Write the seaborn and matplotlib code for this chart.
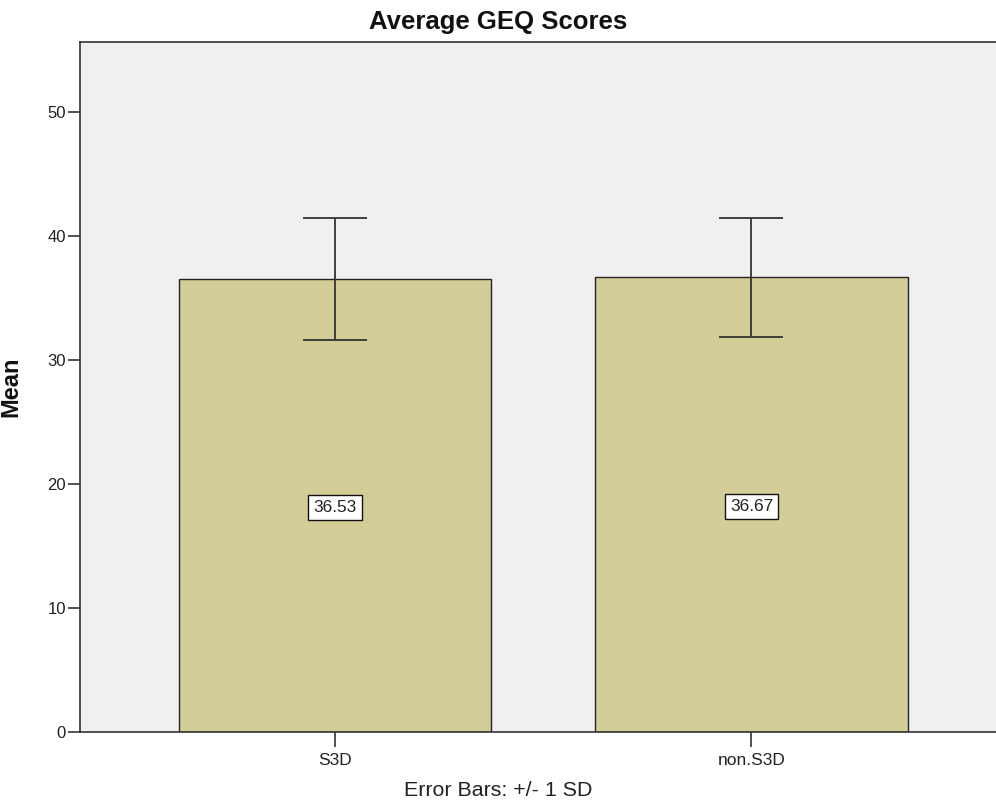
import pandas as pd
import matplotlib
matplotlib.use('Agg')
import matplotlib.pyplot as plt
import seaborn as sns

# values
groups = ['S3D', 'non.S3D']
means = [36.53, 36.67]
sds = [4.90, 4.80]
value_labels = ['36.53', '36.67']

df = pd.DataFrame({'group': groups, 'mean': means})

sns.set_style('white')
plt.rcParams['font.family'] = ['Liberation Sans', 'DejaVu Sans']

fig = plt.figure(figsize=(9.96, 8.05), dpi=100)
ax = fig.add_axes([80 / 996, 1 - 731.7 / 805, 1 - 80 / 996 + 0.002, (731.7 - 42) / 805])
ax.set_facecolor('#F0F0F0')

sns.barplot(data=df, x='group', y='mean', color='#D3CE97', saturation=1,
            width=0.75, errorbar=None, edgecolor='#222222', linewidth=1.0, ax=ax)

# error bars (+/- 1 SD) at the bar centres
centres = [p.get_x() + p.get_width() / 2 for p in ax.patches]
ax.errorbar(centres, means, yerr=sds, fmt='none', ecolor='#333333',
            elinewidth=1.3, capsize=23, capthick=1.3, zorder=5)

# value labels in the middle of each bar
for x, m, lab in zip(centres, means, value_labels):
    ax.text(x, m / 2 - 0.15, lab, ha='center', va='center', fontsize=12.4, color='#222222',
            bbox=dict(boxstyle='square,pad=0.3', facecolor='white',
                      edgecolor='#111111', linewidth=1.0), zorder=6)

ax.set_ylim(0, 55.66)
ax.set_xlim(-0.6125, 1.592)
ax.set_yticks([0, 10, 20, 30, 40, 50])

for side in ['left', 'top', 'bottom']:
    ax.spines[side].set_visible(True)
    ax.spines[side].set_color('#333333')
    ax.spines[side].set_linewidth(1.2)
ax.spines['right'].set_visible(False)

ax.tick_params(axis='y', length=9, width=1.2, color='#333333', pad=1,
               labelsize=12, labelcolor='#222222', left=True)
ax.tick_params(axis='x', length=11, width=1.2, color='#333333', pad=4,
               labelsize=12.5, labelcolor='#222222', bottom=True)

ax.set_xlabel('')
ax.set_ylabel('Mean', fontsize=17, fontweight='bold', color='#111111')
ax.yaxis.set_label_coords(-0.0633, 0.5)

fig.text(0.5, 1 - 22 / 805, 'Average GEQ Scores', ha='center', va='center',
         fontsize=18.5, fontweight='bold', color='#111111')
fig.text(0.5, 1 - 790 / 805, 'Error Bars: +/- 1 SD', ha='center', va='center',
         fontsize=15.4, color='#222222')

fig.savefig('out.png', dpi=100)
